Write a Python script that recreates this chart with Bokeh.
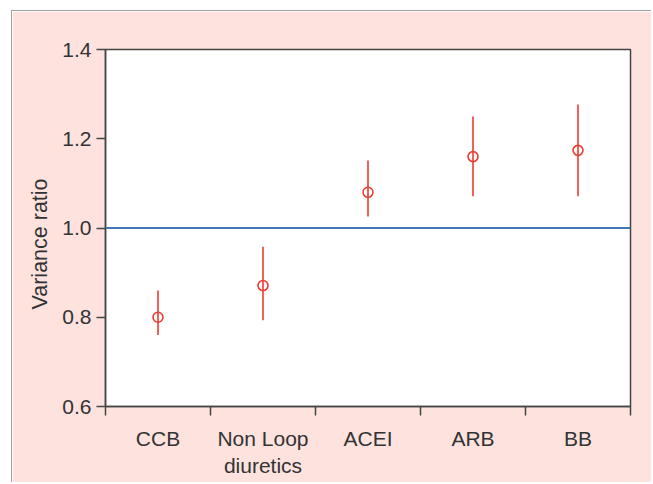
from bokeh.plotting import figure
from bokeh.models import FixedTicker, Span, Whisker, ColumnDataSource, Range1d, Title
from bokeh.embed import file_html
from bokeh.resources import INLINE

categories = ["CCB", "Non Loop\ndiuretics", "ACEI", "ARB", "BB"]
ratio = [0.80, 0.871, 1.080, 1.160, 1.174]
lower = [0.760, 0.793, 1.026, 1.071, 1.071]
upper = [0.860, 0.958, 1.151, 1.250, 1.277]
y_ticks = [0.6, 0.8, 1.0, 1.2, 1.4]
y_title = "Variance ratio"

pos = [i + 0.5 for i in range(len(categories))]
bounds = list(range(len(categories) + 1))
src = ColumnDataSource(dict(x=pos, y=ratio, lo=lower, hi=upper))

PINK = "#fde2de"
TXT = "#333333"
RED = "#ee3a30"

p = figure(width=640, height=472, output_backend="svg", toolbar_location=None,
           x_range=Range1d(0, len(categories)), y_range=Range1d(0.6, 1.4),
           min_border_left=93, min_border_right=22, min_border_top=38, min_border_bottom=77)
p.styles = {"margin-left": "11px", "margin-top": "10px",
            "border-left": "1px solid #a0a0a0", "border-top": "1px solid #a0a0a0"}
p.border_fill_color = PINK
p.background_fill_color = "white"
p.outline_line_color = "#444444"
p.outline_line_width = 1.5
p.grid.visible = False

# x axis
p.xaxis.ticker = FixedTicker(ticks=pos, minor_ticks=bounds)
p.xaxis.major_label_overrides = {x: c for x, c in zip(pos, categories)}
p.xaxis.major_tick_out = 0
p.xaxis.major_tick_in = 0
p.xaxis.minor_tick_out = 9
p.xaxis.minor_tick_in = 0
p.xaxis.minor_tick_line_color = "#444444"
p.xaxis.minor_tick_line_width = 1.5
p.xaxis.major_label_standoff = 11

# y axis
p.yaxis.ticker = FixedTicker(ticks=y_ticks)
p.yaxis.major_label_overrides = {v: f"{v:.1f}" for v in y_ticks}
p.yaxis.major_tick_out = 9
p.yaxis.major_tick_in = 0
p.yaxis.minor_tick_line_color = None
p.yaxis.major_label_standoff = 5

for ax in (p.xaxis, p.yaxis):
    ax.axis_line_color = "#444444"
    ax.axis_line_width = 1.5
    ax.major_tick_line_color = "#444444"
    ax.major_tick_line_width = 1.5
    ax.major_label_text_font = "Liberation Sans"
    ax.major_label_text_font_size = "21px"
    ax.major_label_text_color = TXT

# y-axis title, slightly below the frame centre as in the original
p.add_layout(Title(text=y_title, align="left", offset=97, standoff=15,
                   text_font="Liberation Sans", text_font_size="21.5px",
                   text_font_style="normal", text_color=TXT), "left")

p.add_layout(Span(location=1.0, dimension="width", line_color="#3f76b5", line_width=2.2))

w = Whisker(source=src, base="x", lower="lo", upper="hi", line_color=RED, line_width=1.6)
w.upper_head = None
w.lower_head = None
p.add_layout(w)
p.scatter("x", "y", source=src, marker="circle", size=10, fill_color=None,
          line_color=RED, line_width=1.6)

open("out.html", "w").write(file_html(p, INLINE))
